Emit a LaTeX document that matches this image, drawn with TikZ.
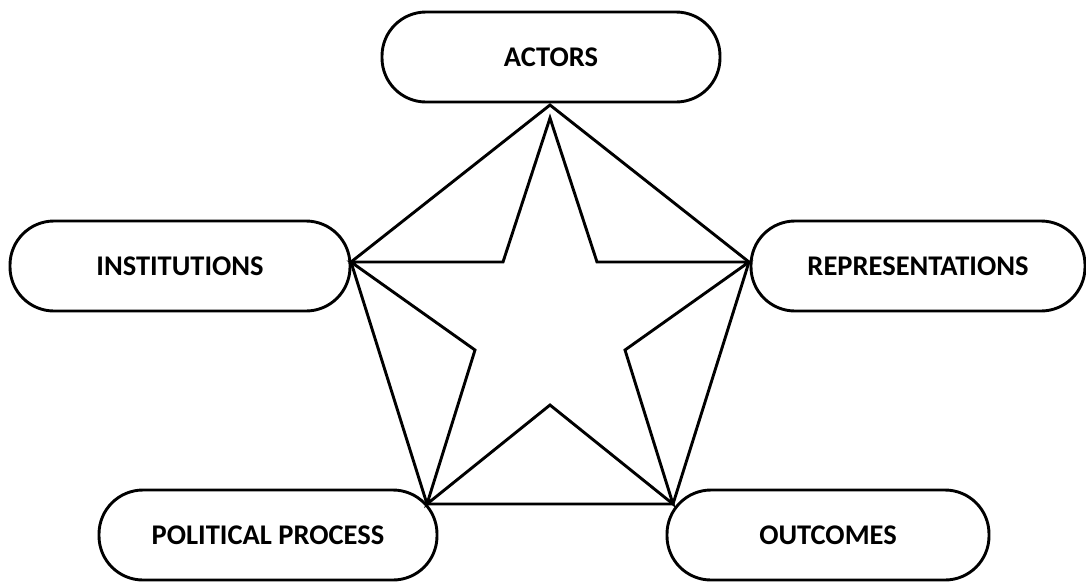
\documentclass[tikz,border=0pt]{standalone}
\usepackage{fontspec}
\setmainfont{Carlito}

\begin{document}
\begin{tikzpicture}[x=1pt, y=-1pt, line width=2.9pt, line join=miter,
    stage/.style={draw, rounded corners=44pt, minimum width=338pt, minimum height=90pt,
        font=\fontsize{28.5}{32}\selectfont\bfseries}]
    \useasboundingbox (0,0) rectangle (1086,582);
    \foreach \n/\p/\w/\t in {act/{551,57}/338/ACTORS, inst/{180,266}/340/INSTITUTIONS,
                          repr/{918,266}/334/REPRESENTATIONS, pol/{268,535}/338/POLITICAL PROCESS,
                          out/{828,535}/322/OUTCOMES} {
        \node[stage, minimum width=\w pt] (\n) at (\p) {\t};
    }
    % pentagon corners
    \coordinate (top) at (550,105);
    \coordinate (lft) at (351,262);
    \coordinate (rgt) at (749,262);
    \coordinate (bl) at (427,504);
    \coordinate (br) at (673,504);
    \draw (top) -- (rgt) -- (br) -- (bl) -- (lft) -- cycle;
    % star
    \coordinate (apex) at (550,118);
    \draw (apex) -- (597,262) -- (rgt) -- (625,350) -- (br) -- (550,405)
        -- (bl) -- (475,350) -- (lft) -- (503,262) -- cycle;
\end{tikzpicture}
\end{document}
